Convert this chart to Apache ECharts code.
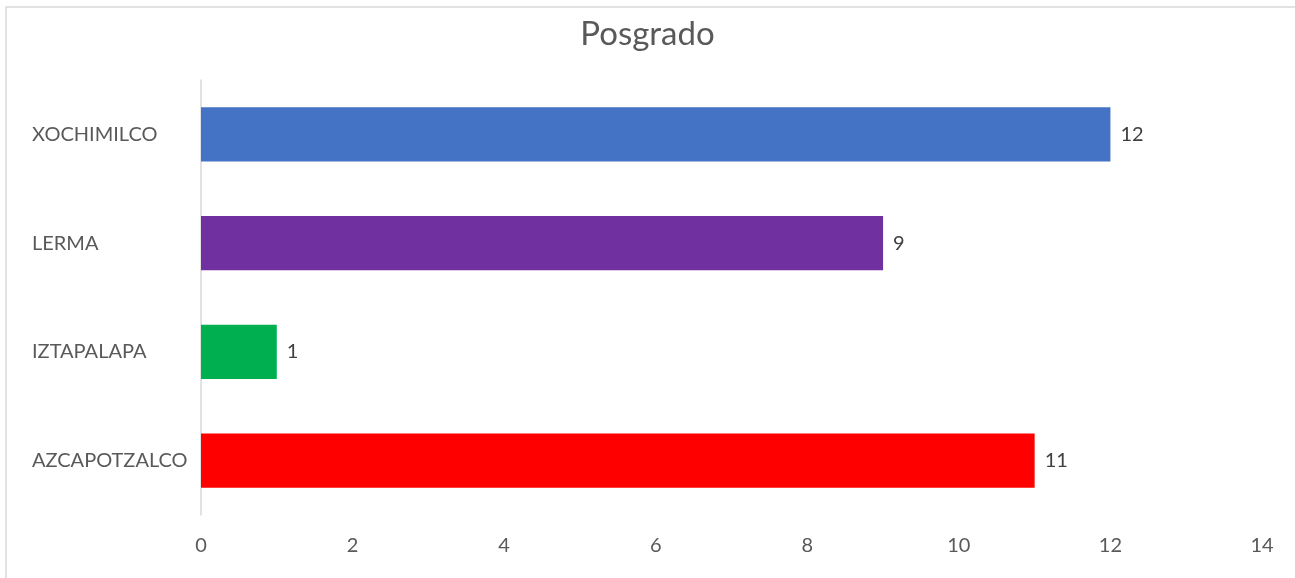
<!DOCTYPE html>
<html>
<head>
<meta charset="utf-8">
<script src="https://cdn.jsdelivr.net/npm/echarts@6/dist/echarts.min.js"></script>
<style>html,body{margin:0;padding:0;background:#fff;}#c{width:1295px;height:578px;}</style>
</head>
<body>
<div id="c"></div>
<script>
const categories = ['AZCAPOTZALCO', 'IZTAPALAPA', 'LERMA', 'XOCHIMILCO'];
const values = [11, 1, 9, 12];
const barColors = ['#FF0000', '#00B050', '#7030A0', '#4472C4'];
const xTicks = { min: 0, max: 14, interval: 2 };

const chart = echarts.init(document.getElementById('c'), null, { renderer: 'canvas' });
const font = 'Lato, "Liberation Sans", sans-serif';
chart.setOption({
  animation: false,
  backgroundColor: '#fff',
  textStyle: { fontFamily: font },
  graphic: [{
    type: 'rect',
    shape: { x: 6, y: 7, width: 1400, height: 700 },
    style: { fill: null, stroke: '#d9d9d9', lineWidth: 1.5 },
    silent: true
  }],
  title: {
    text: 'Posgrado',
    left: 'center',
    top: 13,
    textStyle: { fontFamily: font, fontSize: 33, fontWeight: 'normal', color: '#595959' }
  },
  grid: { left: 201, right: 33, top: 80, bottom: 63, containLabel: false },
  xAxis: {
    type: 'value',
    min: xTicks.min, max: xTicks.max, interval: xTicks.interval,
    axisLine: { show: false },
    axisTick: { show: false },
    splitLine: { show: false },
    axisLabel: { color: '#595959', fontSize: 20, margin: 21, fontFamily: font }
  },
  yAxis: {
    type: 'category',
    data: categories,
    axisLine: { show: true, lineStyle: { color: '#d9d9d9', width: 1.5 } },
    axisTick: { show: false },
    axisLabel: { color: '#595959', fontSize: 20, align: 'left', margin: 169, fontFamily: font }
  },
  series: [{
    type: 'bar',
    data: values.map((v, i) => ({ value: v, itemStyle: { color: barColors[i] } })),
    barCategoryGap: '50%',
    label: { show: true, position: 'right', distance: 10, color: '#404040', fontSize: 20, fontFamily: font }
  }]
});
</script>
</body>
</html>
